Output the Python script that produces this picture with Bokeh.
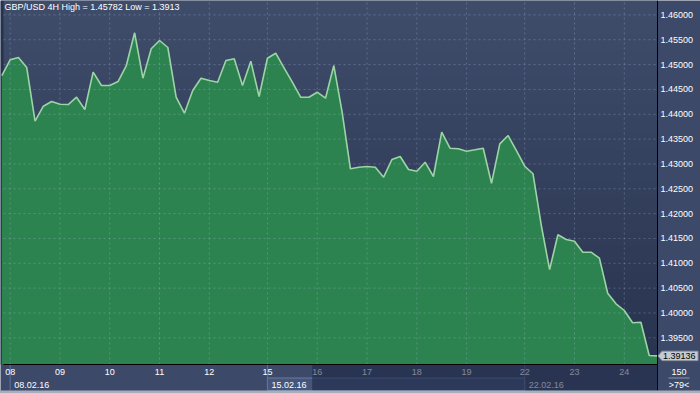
import numpy as np
from bokeh.plotting import figure
from bokeh.models import Range1d, FixedTicker, NumeralTickFormatter
from bokeh.core.properties import value
from bokeh.embed import file_html
from bokeh.resources import INLINE

# ---------------- data ----------------
chart_title = "GBP/USD 4H High = 1.45782 Low = 1.3913"

closes = [
    1.44780, 1.45096, 1.45143, 1.44941, 1.43860, 1.44162, 1.44257, 1.44202,
    1.44196, 1.44343, 1.44096, 1.44847, 1.44579, 1.44579, 1.44659, 1.44981,
    1.45640, 1.44726, 1.45318, 1.45485, 1.45344, 1.44343, 1.44021, 1.44478,
    1.44726, 1.44680, 1.44645, 1.45082, 1.45116, 1.44579, 1.45068, 1.44357,
    1.45128, 1.45229, 1.44935, 1.44645, 1.44343, 1.44343, 1.44444, 1.44323,
    1.44981, 1.44041, 1.42902, 1.42934, 1.42948, 1.42934, 1.42733, 1.43089,
    1.43150, 1.42888, 1.42854, 1.43035, 1.42747, 1.43639, 1.43317, 1.43305,
    1.43256, 1.43285, 1.43317, 1.42612, 1.43405, 1.43572, 1.43270, 1.42954,
    1.42802, 1.41761, 1.40875, 1.41574, 1.41479, 1.41445, 1.41223, 1.41223,
    1.41103, 1.40398, 1.40185, 1.40050, 1.39802, 1.39814, 1.39144, 1.39136,
]
bar_index = list(range(-1, len(closes) - 1))

day_ticks = [0, 6, 12, 18, 24, 31, 37, 43, 49, 55, 62, 68, 74]
day_labels = ["08", "09", "10", "11", "12", "15", "16", "17", "18", "19", "22", "23", "24"]

week_ticks = [0, 31, 62]
week_labels = ["08.02.16", "15.02.16", "22.02.16"]

y_ticks = [1.395, 1.400, 1.405, 1.410, 1.415, 1.420, 1.425, 1.430, 1.435,
           1.440, 1.445, 1.450, 1.455, 1.460]

last_price = 1.39136
last_price_text = "1.39136"
corner_top_text = "150"
corner_bottom_text = ">79<"

# ---------------- layout constants ----------------
W, H = 700, 393
FL, FR, FT, FB = 3, 657, 0, 364          # price-chart area in page pixels
X0, X1 = -0.8, 78.0                      # bar range shown in the chart area
Y0, Y1 = 1.38963, 1.46290                # price range shown in the chart area
PPB = (FR - FL) / (X1 - X0)
PPY = (FB - FT) / (Y1 - Y0)
FONT = "Liberation Sans"
FS = "9px"
BG = "#3c4969"


def xp(px):
    return X0 + (px - FL) / PPB


def yp(py):
    return Y1 - (py - FT) / PPY


p = figure(width=W, height=H, output_backend="svg", toolbar_location=None, title=None,
           x_range=Range1d(xp(0), xp(W)), y_range=Range1d(yp(H), yp(0)),
           x_axis_location="below", y_axis_location="right",
           min_border_left=0, min_border_right=0, min_border_top=0, min_border_bottom=0,
           background_fill_color=BG, border_fill_color=BG, outline_line_color=None)
p.xgrid.visible = False
p.ygrid.visible = False
# pixel helper ranges for the frame decorations (time bar, price tag, title)
p.extra_x_ranges = {"px": Range1d(0, W)}
p.extra_y_ranges = {"px": Range1d(H, 0)}

# vertical gradient background of the price-chart area
n = 182
top_c = np.array([63, 77, 107], dtype=float)
bot_c = np.array([41, 52, 79], dtype=float)
t = np.linspace(0, 1, n)[:, None]
cols = bot_c * (1 - t) + top_c * t
img = np.zeros((n, 1), dtype=np.uint32)
view = img.view(dtype=np.uint8).reshape((n, 1, 4))
view[:, 0, 0:3] = cols.astype(np.uint8)
view[:, 0, 3] = 255
p.image_rgba(image=[img], x=X0, y=Y0, dw=X1 - X0, dh=Y1 - Y0)
p.quad(left=[0], right=[FL], top=[FT], bottom=[FB], x_range_name="px", y_range_name="px",
       fill_color="#27324b", line_alpha=0)

# area + line
p.varea(x=bar_index, y1=Y0, y2=closes, fill_color="#2d834f")
p.line(x=bar_index, y=closes, line_color="#9dd4a5", line_width=1.6)

# dashed grid restricted to the chart area
GRID = dict(line_color="#a8c0e8", line_alpha=0.3, line_dash="2 3", line_width=1)
p.segment(x0=day_ticks, x1=day_ticks, y0=[Y0] * len(day_ticks), y1=[Y1] * len(day_ticks), **GRID)
p.segment(x0=[X0] * len(y_ticks), x1=[X1] * len(y_ticks), y0=y_ticks, y1=y_ticks, **GRID)

# price scale (right)
ya = p.yaxis[0]
ya.fixed_location = X1
ya.bounds = (yp(390), Y1)
ya.ticker = FixedTicker(ticks=y_ticks)
ya.formatter = NumeralTickFormatter(format="0.00000")
ya.major_tick_in = 0
ya.major_tick_out = 0
ya.minor_tick_in = 0
ya.minor_tick_out = 0
ya.axis_line_color = "#000000"
ya.major_label_text_color = "#ffffff"
ya.major_label_text_font = FONT
ya.major_label_text_font_size = FS
ya.major_label_standoff = 3

# time scale (bottom)
xa = p.xaxis[0]
xa.fixed_location = Y0
xa.bounds = (X0, X1)
xa.ticker = FixedTicker(ticks=day_ticks)
xa.major_label_overrides = {t_: l for t_, l in zip(day_ticks, day_labels)}
xa.major_tick_in = 0
xa.major_tick_out = 0
xa.minor_tick_in = 0
xa.minor_tick_out = 0
xa.axis_line_color = "#000000"
xa.major_label_text_color = "#ffffff"
xa.major_label_text_font = FONT
xa.major_label_text_font_size = FS
xa.major_label_standoff = 4

# title
p.text(x=[4], y=[1.5], text=[chart_title], x_range_name="px", y_range_name="px",
       text_align="left", text_baseline="top", text_color="#ffffff",
       text_font=value(FONT), text_font_size=FS)

# ---- time bar decorations ----
p.quad(left=[week_ticks[1]], right=[week_ticks[2]], top=[377.5], bottom=[390],
       y_range_name="px", fill_color="#46557a", line_color="#6a7aa0", line_width=1)
p.segment(x0=week_ticks, x1=week_ticks, y0=[FB] * len(week_ticks), y1=[390] * len(week_ticks),
          y_range_name="px", line_color="#62729a", line_width=1)
p.text(x=week_ticks, y=[384] * len(week_ticks), text=week_labels, x_offset=4,
       y_range_name="px", text_align="left", text_baseline="middle", text_color="#ffffff",
       text_font=value(FONT), text_font_size=FS)

# dimmed future part of the time bar
p.quad(left=[311.7], right=[FR], top=[FB + 0.6], bottom=[390],
       x_range_name="px", y_range_name="px",
       fill_color="#18233f", fill_alpha=0.55, line_alpha=0, level="overlay")

# corner box
p.text(x=[678.5], y=[371.5], text=[corner_top_text], x_range_name="px", y_range_name="px",
       text_align="center", text_baseline="middle", text_color="#ffffff",
       text_font=value(FONT), text_font_size=FS)
p.segment(x0=[668], x1=[689], y0=[377.5], y1=[377.5], x_range_name="px", y_range_name="px",
          line_color="#8c96ac", line_width=1)
p.text(x=[678.5], y=[384.5], text=[corner_bottom_text], x_range_name="px", y_range_name="px",
       text_align="center", text_baseline="middle", text_color="#ffffff",
       text_font=value(FONT), text_font_size=FS)

# window bottom frame
p.quad(left=[0], right=[W], top=[390], bottom=[H], x_range_name="px", y_range_name="px",
       fill_color="#a7aebb", line_alpha=0, level="overlay")

# last price tag on the price scale
TAG_H = 4.7 / PPY
p.patch(x=[657.5, 661.5, 697.5, 697.5, 661.5],
        y=[last_price, last_price + TAG_H, last_price + TAG_H, last_price - TAG_H,
           last_price - TAG_H],
        x_range_name="px", fill_color="#c6cad2", line_color="#8e95a3", line_width=1,
        level="overlay")
p.text(x=[662.5], y=[last_price], text=[last_price_text], x_range_name="px",
       text_align="left", text_baseline="middle", text_color="#000000",
       text_font=value(FONT), text_font_size=FS, level="overlay")

open("out.html", "w").write(file_html(p, INLINE))
